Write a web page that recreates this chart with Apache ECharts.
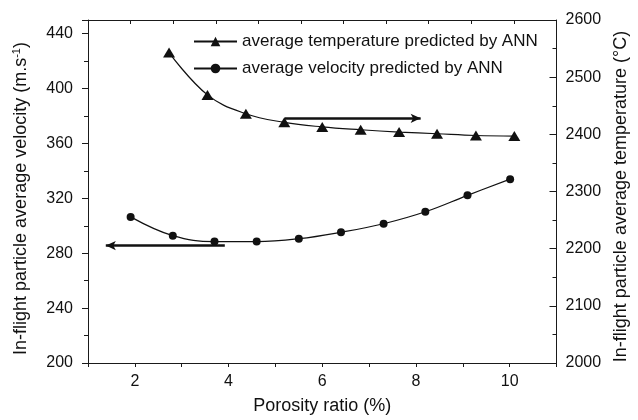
<!DOCTYPE html>
<html>
<head>
<meta charset="utf-8">
<script src="https://cdn.jsdelivr.net/npm/echarts@6/dist/echarts.min.js"></script>
<style>html,body{margin:0;padding:0;background:#fff}#c{width:638px;height:420px}</style>
</head>
<body>
<div id="c"></div>
<script>
// Data
const tempName = 'average temperature predicted by ANN';
const velName = 'average velocity predicted by ANN';
const tempX = [2.73, 3.55, 4.37, 5.19, 6.0, 6.82, 7.64, 8.45, 9.28, 10.1];
const tempY = [2543, 2469, 2436, 2421, 2413, 2408, 2404, 2401, 2398, 2397];
const velX = [1.91, 2.81, 3.70, 4.60, 5.50, 6.40, 7.31, 8.20, 9.10, 10.01];
const velY = [306.5, 292.8, 288.5, 288.5, 290.6, 295.3, 301.5, 310.2, 322.2, 334];
// annotation arrows (data coordinates): [start, end]
const tempArrow = [[5.2, 2428], [8.1, 2428]];
const velArrow = [[3.92, 285.6], [1.38, 285.6]];
const xTicks = [2, 4, 6, 8, 10];

const FONT = 'Liberation Sans';
const AX = '#1a1a1a';

const chart = echarts.init(document.getElementById('c'), null, {renderer: 'canvas'});
const zip = (a, b) => a.map((v, i) => [v, b[i]]);

chart.setOption({
  animation: false,
  backgroundColor: '#fff',
  textStyle: {fontFamily: FONT},
  grid: {left: 88, right: 79, top: 20, bottom: 54},
  legend: {
    orient: 'vertical',
    left: 193, top: 33, padding: 0,
    itemWidth: 43, itemHeight: 12, itemGap: 10,
    textStyle: {fontFamily: FONT, fontSize: 17, color: '#111'},
    data: [tempName, velName]
  },
  xAxis: [{
    type: 'value', position: 'bottom', min: 1, max: 11, interval: 1,
    name: 'Porosity ratio (%)', nameLocation: 'middle', nameGap: 34,
    nameTextStyle: {fontFamily: FONT, fontSize: 18, color: '#111'},
    axisLine: {show: true, lineStyle: {color: AX, width: 1}},
    axisTick: {show: true, inside: false, length: 4, lineStyle: {color: AX}},
    axisLabel: {fontFamily: FONT, fontSize: 16, color: '#111', margin: 11,
      formatter: v => xTicks.includes(v) ? String(v) : ''},
    splitLine: {show: false}
  }, {
    type: 'value', position: 'top', min: 0, max: 11, interval: 1,
    axisLine: {show: true, lineStyle: {color: AX, width: 1}},
    axisTick: {show: true, inside: true, length: 4, lineStyle: {color: AX}},
    axisLabel: {show: false},
    splitLine: {show: false}
  }],
  yAxis: [{
    type: 'value', position: 'left', min: 200, max: 450, interval: 40,
    name: 'In-flight particle average velocity (m.s{sup|-1})',
    nameLocation: 'middle', nameGap: 57, nameRotate: 90,
    nameTextStyle: {fontFamily: FONT, fontSize: 18, color: '#111', padding: [0, 14, 0, 0],
      rich: {sup: {fontFamily: FONT, fontSize: 11, color: '#111', padding: [0, 0, 9, 0]}}},
    axisLine: {show: true, lineStyle: {color: AX, width: 1}},
    axisTick: {show: true, inside: false, length: 6, lineStyle: {color: AX}},
    minorTick: {show: true, splitNumber: 2, length: 4, lineStyle: {color: AX}},
    axisLabel: {fontFamily: FONT, fontSize: 16, color: '#111', margin: 15, showMaxLabel: false,
      formatter: v => String(v)},
    splitLine: {show: false}, minorSplitLine: {show: false}
  }, {
    type: 'value', position: 'right', min: 2000, max: 2600, interval: 100,
    name: 'In-flight particle average temperature (°C)',
    nameLocation: 'middle', nameGap: 52, nameRotate: 90,
    nameTextStyle: {fontFamily: FONT, fontSize: 18, color: '#111', padding: [0, 10, 0, 0]},
    axisLine: {show: true, lineStyle: {color: AX, width: 1}},
    axisTick: {show: true, inside: true, length: 7, lineStyle: {color: AX}},
    minorTick: {show: true, splitNumber: 2, length: 4, lineStyle: {color: AX}},
    axisLabel: {fontFamily: FONT, fontSize: 16, color: '#111', margin: 9,
      formatter: v => String(v)},
    splitLine: {show: false}, minorSplitLine: {show: false}
  }],
  series: [{
    name: tempName, type: 'line', xAxisIndex: 0, yAxisIndex: 1,
    data: zip(tempX, tempY), smooth: 0.4,
    symbol: 'triangle', symbolSize: [12, 10], showAllSymbol: true,
    lineStyle: {color: '#111', width: 1.2}, itemStyle: {color: '#111'},
    markLine: {
      silent: true, symbol: ['none', 'arrow'], symbolSize: [7, 10],
      lineStyle: {color: '#111', width: 2.5, type: 'solid'}, label: {show: false},
      data: [[{coord: tempArrow[0]}, {coord: tempArrow[1]}]]
    }
  }, {
    name: velName, type: 'line', xAxisIndex: 0, yAxisIndex: 0,
    data: zip(velX, velY), smooth: 0.4,
    symbol: 'circle', symbolSize: 8, showAllSymbol: true,
    lineStyle: {color: '#111', width: 1.2}, itemStyle: {color: '#111'},
    markLine: {
      silent: true, symbol: ['none', 'arrow'], symbolSize: [7, 10],
      lineStyle: {color: '#111', width: 2.5, type: 'solid'}, label: {show: false},
      data: [[{coord: velArrow[0]}, {coord: velArrow[1]}]]
    }
  }]
});
</script>
</body>
</html>
